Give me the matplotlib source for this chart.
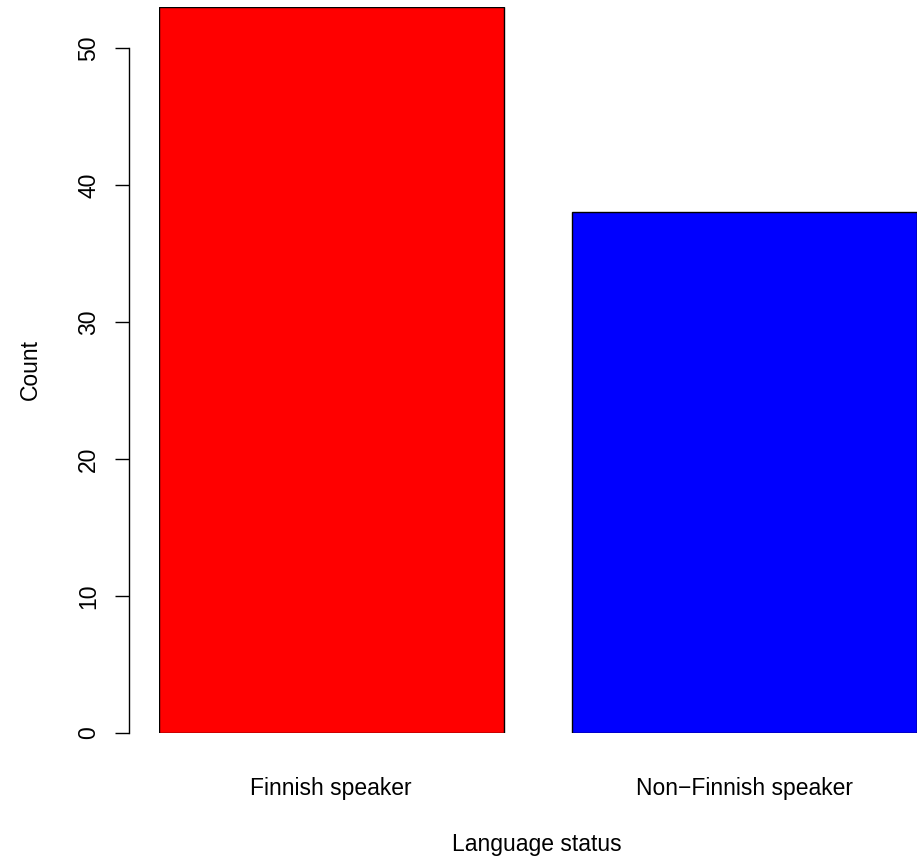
import matplotlib.pyplot as plt

# bar data
categories = ["Finnish speaker", "Non\u2212Finnish speaker"]
counts = [53, 38]
bar_colors = ["#ff0000", "#0000ff"]
yticks = [0, 10, 20, 30, 40, 50]

plt.rcParams['font.family'] = ['Liberation Sans', 'DejaVu Sans']

W, H = 924, 856
PX = 72 / 100  # points per pixel at dpi 100
fig = plt.figure(figsize=(W / 100, H / 100), dpi=100, facecolor='white')
# plot region in pixels: x 159..917 holds 0.2..2.4, y 733..7 holds 0..53
x0, x1, y0, y1 = 159, 917, 733, 7
ax = fig.add_axes([x0 / W, (H - y0) / H, (x1 - x0) / W, (y0 - y1) / H])

xpos = [0.7, 1.9]
ax.bar(xpos, counts, width=1.0, color=bar_colors, edgecolor='black',
       linewidth=1.0)
ax.set_xlim(0.2, 2.4)
ax.set_ylim(0, 53)

for s in ['top', 'right', 'bottom']:
    ax.spines[s].set_visible(False)
ax.spines['left'].set_position(('outward', 30 * PX))
ax.spines['left'].set_bounds(0, 50)
ax.spines['left'].set_linewidth(1.0)

ax.set_yticks(yticks)
ax.set_yticklabels([str(v) for v in yticks], rotation=90, va='center',
                   fontsize=16.5)
ax.tick_params(axis='y', length=14 * PX, width=1.0, pad=15 * PX)

ax.set_xticks(xpos)
ax.set_xticklabels(categories, fontsize=16.5)
ax.tick_params(axis='x', length=0, pad=44 * PX)

ax.set_ylabel("Count", fontsize=16.5)
ax.set_xlabel("Language status", fontsize=16.5)
ax.xaxis.set_label_coords((537 - x0) / (x1 - x0), -(833 - y0) / (y0 - y1))
ax.yaxis.set_label_coords(-(x0 - 42) / (x1 - x0), 0.5)

fig.savefig("out.png", dpi=100)
